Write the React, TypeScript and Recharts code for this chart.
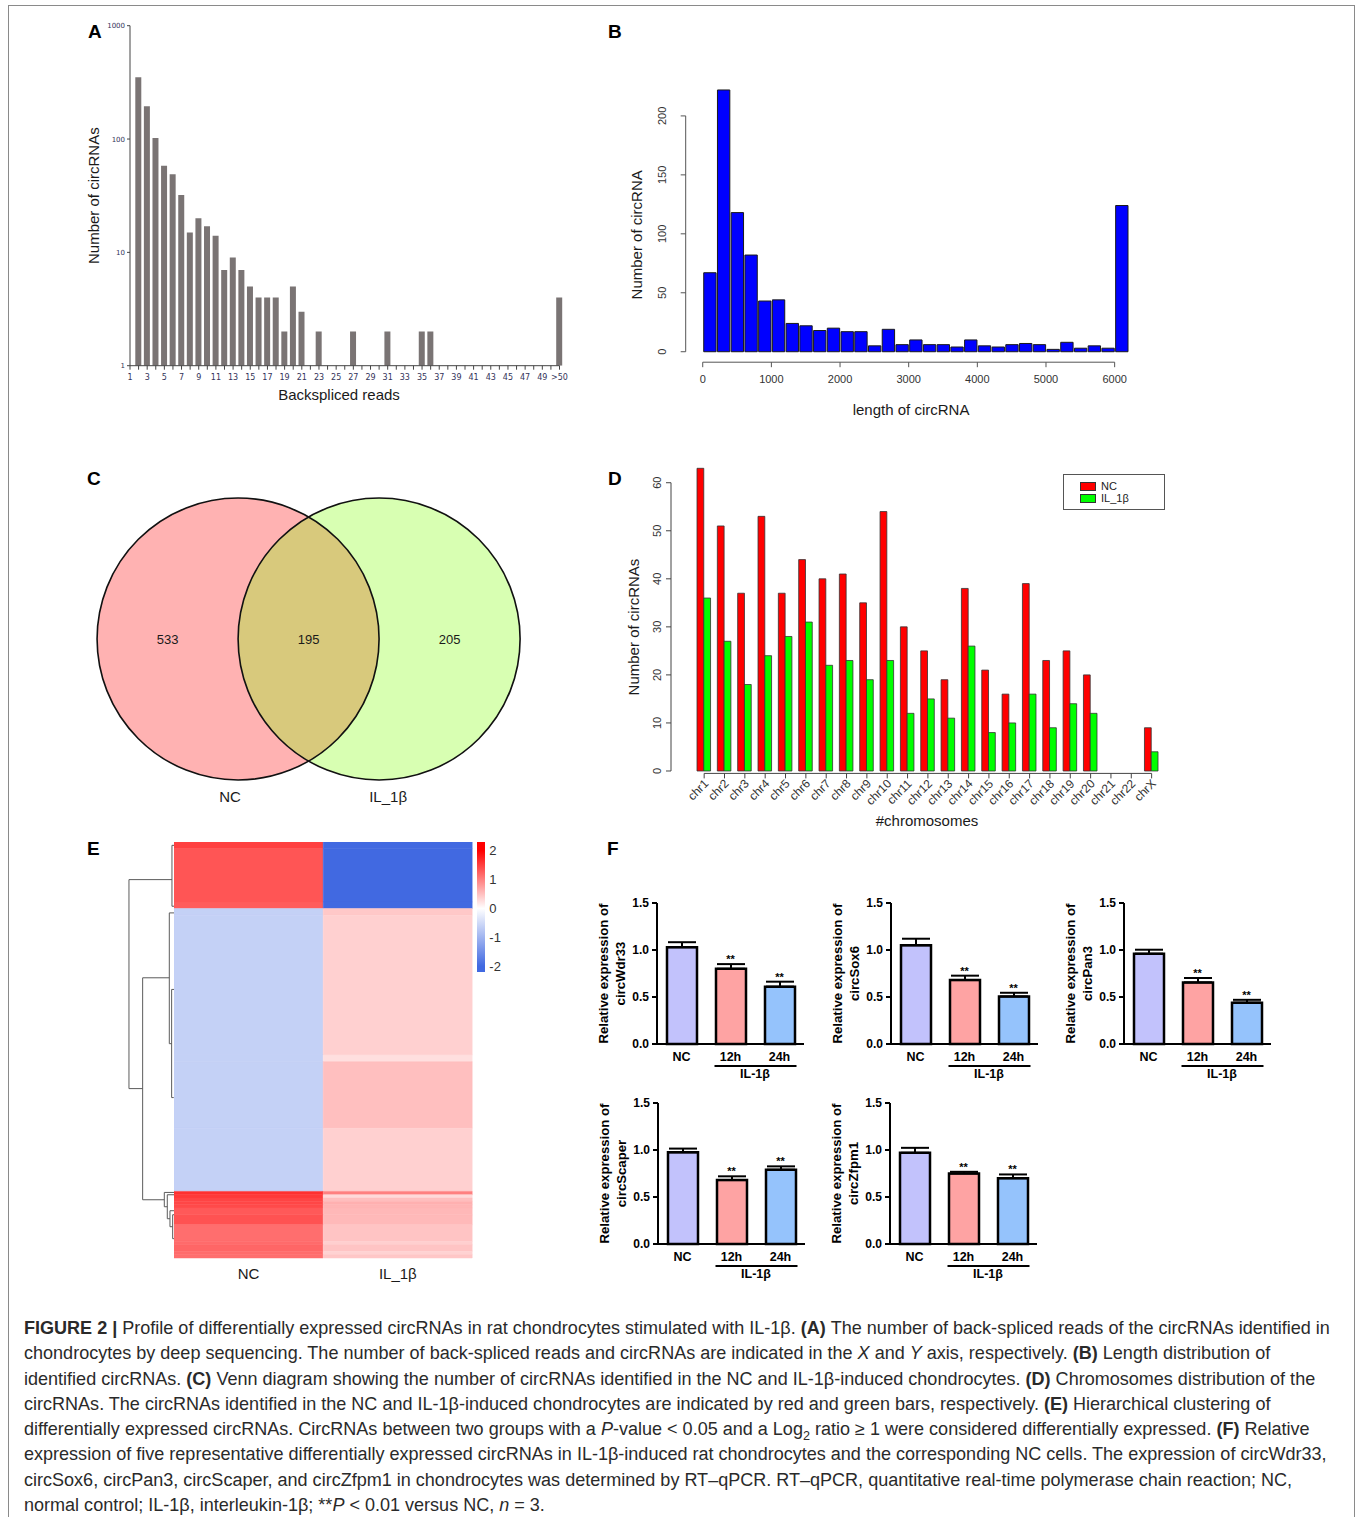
import React from 'react';
import {
  BarChart, Bar, XAxis, YAxis, Cell, ReferenceLine, Legend, ScatterChart, Scatter,
  ComposedChart, Line, LabelList, ErrorBar,
} from 'recharts';

const FONT = '"Liberation Sans", Arial, Helvetica, sans-serif';

// ---------- A: back-spliced reads (log scale) ----------
const readsCategories = Array.from({ length: 51 }, (_, i) => i + 1); // 51 = ">50"
const readsCounts: (number | null)[] = [
  null, 350, 195, 102, 58, 49, 32, 15, 20, 17, 14, 7, 9, 7, 5, 4, 4, 4, 2, 5, 3,
  null, 2, null, null, null, 2, null, null, null, 2, null, null, null, 2, 2,
  null, null, null, null, null, null, null, null, null, null, null, null, null, null,
  4,
];

// ---------- B: length histogram (200 nt bins, last bin = >6000) ----------
const lengthBinStarts = Array.from({ length: 31 }, (_, i) => i * 200);
const lengthCounts = [
  67, 222, 118, 82, 43, 44, 24, 22, 18, 20, 17, 17, 5, 19, 6, 10,
  6, 6, 4, 10, 5, 4, 6, 7, 6, 2, 8, 3, 5, 3, 124,
];
const lengthTicks = [0, 1000, 2000, 3000, 4000, 5000, 6000];

// ---------- C: venn ----------
const vennSets = ['NC', 'IL_1β'];
const vennCounts = [533, 195, 205]; // NC only, shared, IL_1β only

// ---------- D: chromosome distribution ----------
const chromosomes = [
  'chr1', 'chr2', 'chr3', 'chr4', 'chr5', 'chr6', 'chr7', 'chr8', 'chr9', 'chr10', 'chr11', 'chr12',
  'chr13', 'chr14', 'chr15', 'chr16', 'chr17', 'chr18', 'chr19', 'chr20', 'chr21', 'chr22', 'chrX',
];
const chrNC = [63, 51, 37, 53, 37, 44, 40, 41, 35, 54, 30, 25, 19, 38, 21, 16, 39, 23, 25, 20, 0, 0, 9];
const chrIL = [36, 27, 18, 24, 28, 31, 22, 23, 19, 23, 12, 15, 11, 26, 8, 10, 16, 9, 14, 12, 0, 0, 4];

// ---------- E: heatmap bands (rows per band, z-score per column) ----------
const heatCols = ['NC', 'IL_1β'];
const heatRows = [2, 16, 2, 2, 42, 2, 20, 19, 1, 1, 1, 1, 1, 2, 3, 5, 1, 2, 1, 1];
const heatNC = [1.5, 1.33, 1.28, -0.62, -0.62, -0.62, -0.62, -0.62, 1.62, 1.55, 1.47, 1.45, 1.42, 1.3, 1.36, 1.14, 1.16, 1.2, 1.16, 1.14];
const heatIL = [-2, -2, -2, 0.43, 0.37, 0.25, 0.5, 0.37, 1.0, 0.3, 0.5, 0.62, 0.58, 0.56, 0.55, 0.46, 0.38, 0.46, 0.35, 0.44];
const zTicks = [-2, -1, 0, 1, 2];
const zRange: [number, number] = [-2.2, 2.3];
// dendrogram merges: height h, child rows y1/y2, child heights h1/h2
const dendroLinks = [
  { h: 0.835, y1: 11.3, y2: 74.1, h1: 0.043, h2: 0.583 },
  { h: 0.583, y1: 40.8, y2: 107.5, h1: 0.092, h2: 0.184 },
  { h: 0.043, y1: 1.0, y2: 19.3, h1: 0, h2: 0 },
  { h: 0.092, y1: 21.3, y2: 60.6, h1: 0, h2: 0.049 },
  { h: 0.049, y1: 44.3, y2: 76.8, h1: 0, h2: 0.01 },
  { h: 0.184, y1: 105.3, y2: 109.6, h1: 0, h2: 0.129 },
  { h: 0.129, y1: 106.0, y2: 113.2, h1: 0, h2: 0.08 },
  { h: 0.08, y1: 110.8, y2: 115.6, h1: 0, h2: 0.03 },
  { h: 0.03, y1: 112.0, y2: 119.2, h1: 0, h2: 0 },
];

// ---------- F: RT-qPCR ----------
const fGenes = ['circWdr33', 'circSox6', 'circPan3', 'circScaper', 'circZfpm1'];
const fGroups = ['NC', '12h', '24h'];
const fTreatment = 'IL-1β';
const fMeans = [
  [1.03, 0.8, 0.61],
  [1.05, 0.68, 0.505],
  [0.96, 0.655, 0.44],
  [0.975, 0.68, 0.79],
  [0.97, 0.75, 0.7],
];
const fErrs = [
  [0.053, 0.05, 0.053],
  [0.07, 0.047, 0.04],
  [0.043, 0.047, 0.03],
  [0.04, 0.04, 0.036],
  [0.053, 0.018, 0.04],
];
const fSig = ['', '**', '**'];

// ---------- helpers ----------
const zColor = (z: number) => {
  const t = Math.max(-1, Math.min(1, z / 2));
  const mix = (a: number, b: number, k: number) => Math.round(a + (b - a) * k);
  if (t >= 0) return `rgb(255,${mix(255, 0, t)},${mix(255, 0, t)})`;
  const k = -t;
  return `rgb(${mix(255, 65, k)},${mix(255, 105, k)},${mix(255, 225, k)})`;
};

const vTitle = (text: string, fromRight: number, size: number, dy = 0, weight = 'normal') => ({
  content: (p: any) => {
    const vb = p.viewBox;
    const x = vb.x + vb.width - fromRight + 0.36 * size;
    const y = vb.y + vb.height / 2 + dy;
    return (
      <text x={x} y={y} transform={`rotate(-90 ${x} ${y})`} textAnchor="middle" fontSize={size} fontWeight={weight} fill="#1a1a1a">
        {text}
      </text>
    );
  },
});

const hTitle = (text: string, below: number, size: number, dx = 0) => ({
  content: (p: any) => {
    const vb = p.viewBox;
    return (
      <text x={vb.x + vb.width / 2 + dx} y={vb.y + below + 0.36 * size} textAnchor="middle" fontSize={size} fill="#1a1a1a">
        {text}
      </text>
    );
  },
});

const RotTick = (props: any) => {
  const { x, y, payload } = props;
  return (
    <text x={x} y={y} transform={`rotate(-90 ${x} ${y})`} textAnchor="middle" fontSize={11} fill="#333">
      {payload.value}
    </text>
  );
};

const ReadsTick = (props: any) => {
  const { x, y, payload } = props;
  const v = payload.value;
  if (v % 2 === 0) return <g />;
  return (
    <text x={x} y={y} dy={7} textAnchor="middle" fontSize={8} fill="#33335a" fontFamily="DejaVu Sans">
      {v === 51 ? '>50' : v}
    </text>
  );
};

const ChrTick = (props: any) => {
  const { x, y, payload } = props;
  const tx = x + 5;
  const ty = y + 3;
  return (
    <text x={tx} y={ty} transform={`rotate(-45 ${tx} ${ty})`} textAnchor="end" fontSize={12} fill="#333">
      {payload.value}
    </text>
  );
};

const PanelLetter = ({ ch, left, top }: { ch: string; left: number; top: number }) => (
  <div style={{ position: 'absolute', left, top, fontSize: 19, fontWeight: 'bold', lineHeight: '19px', fontFamily: FONT }}>{ch}</div>
);

// ---------- panels ----------
function PanelA() {
  const data = readsCategories.map((c, i) => ({ reads: c, count: readsCounts[i] }));
  return (
    <div style={{ position: 'absolute', left: 55, top: 10 }}>
      <BarChart width={525} height={400} data={data} margin={{ top: 15.7, right: 20.5, left: 0, bottom: 0 }}>
        <XAxis
          dataKey="reads" type="number" domain={[1, 51]} ticks={readsCategories} interval={0}
          height={44.3} tickSize={4} tickMargin={3} stroke="#444" tick={<ReadsTick />}
          label={hTitle('Backspliced reads', 29.3, 15, -5.75)}
        />
        <YAxis
          type="number" scale="log" domain={[1, 1000]} allowDataOverflow ticks={[1, 10, 100, 1000]}
          width={75} tickSize={3} tickMargin={2} stroke="#444"
          tick={{ fontSize: 7, fill: '#33335a', fontFamily: 'DejaVu Sans' }}
          label={vTitle('Number of circRNAs', 36, 15)}
        />
        <Bar dataKey="count" fill="#7a7474" barSize={6} isAnimationActive={false} />
      </BarChart>
    </div>
  );
}

function PanelB() {
  const data = lengthBinStarts.map((s, i) => ({ mid: s + 100, count: lengthCounts[i] }));
  const plotW = 560 - 85.7 - 14.6;
  const barSize = (plotW * 200) / (6448 + 248);
  return (
    <div style={{ position: 'absolute', left: 600, top: 60 }}>
      <BarChart width={560} height={370} data={data} margin={{ top: 19.5, right: 14.6, left: 0, bottom: 0 }} barGap={0}>
        <XAxis
          dataKey="mid" type="number" domain={[-248, 6448]} ticks={lengthTicks} interval={0}
          axisLine={false} tickSize={5} tickMargin={8} height={67.8} stroke="#555"
          tick={{ fontSize: 11, fill: '#333' }}
          label={hTitle('length of circRNA', 47.8, 15, -4.5)}
        />
        <YAxis
          type="number" domain={[-8.88, 230.88]} ticks={[0, 50, 100, 150, 200]} interval={0}
          axisLine={false} width={85.7} tickSize={5} tickMargin={15} stroke="#555" tick={<RotTick />}
          label={vTitle('Number of circRNA', 48.7, 15, 14)}
        />
        <ReferenceLine segment={[{ x: -248, y: 0 }, { x: -248, y: 200 }]} stroke="#555" />
        <ReferenceLine segment={[{ x: 0, y: -8.88 }, { x: 6000, y: -8.88 }]} stroke="#555" />
        <Bar dataKey="count" fill="#0000ff" stroke="#1a1a1a" strokeWidth={1} barSize={barSize} isAnimationActive={false} />
      </BarChart>
    </div>
  );
}

const VENN_R = 141;
const vennFill = ['#ff0000', '#7fff00'];
const vennNameShift = [-8, 9];

function PanelC() {
  const circles = vennSets.map((s, i) => ({ x: i, y: 0, name: s }));
  const counts = vennCounts.map((n, i) => ({ x: i - 0.5, y: 0, n }));
  return (
    <div style={{ position: 'absolute', left: 90, top: 469 }}>
      <ScatterChart width={440} height={340} margin={{ top: 0, right: 0, bottom: 0, left: 0 }}>
        <XAxis type="number" dataKey="x" domain={[-1.05, 2.07]} hide />
        <YAxis type="number" dataKey="y" domain={[-1, 1]} hide />
        <Scatter
          data={circles} isAnimationActive={false}
          shape={(p: any) => (
            <circle cx={p.cx} cy={p.cy} r={VENN_R} fill={vennFill[vennSets.indexOf(p.payload.name)]} fillOpacity={0.3} />
          )}
        />
        <Scatter
          data={circles} isAnimationActive={false}
          shape={(p: any) => {
            const i = vennSets.indexOf(p.payload.name);
            return (
              <g>
                <circle cx={p.cx} cy={p.cy} r={VENN_R} fill="none" stroke="#111" strokeWidth={1.6} />
                <text x={p.cx + vennNameShift[i]} y={p.cy + VENN_R + 22} textAnchor="middle" fontSize={15} fill="#1a1a1a">
                  {p.payload.name}
                </text>
              </g>
            );
          }}
        />
        <Scatter
          data={counts} isAnimationActive={false}
          shape={(p: any) => (
            <text x={p.cx} y={p.cy + 4.5} textAnchor="middle" fontSize={13} fill="#1a1a1a">{p.payload.n}</text>
          )}
        />
      </ScatterChart>
    </div>
  );
}

const legendOrder = ['NC', 'IL_1β'];
const DLegend = (props: any) => {
  const items = [...(props.payload || [])].sort(
    (a: any, b: any) => legendOrder.indexOf(a.value) - legendOrder.indexOf(b.value),
  );
  return (
    <div style={{ border: '1px solid #555', width: 102, height: 36, boxSizing: 'border-box', padding: '5px 0 0 16px', background: '#fff', fontFamily: FONT }}>
      {items.map((e: any) => (
        <div key={e.value} style={{ display: 'flex', alignItems: 'center', height: 12, fontSize: 11, color: '#222' }}>
          <span style={{ display: 'inline-block', width: 14, height: 7, background: e.color, border: '1px solid #333', marginRight: 5 }} />
          {e.value}
        </div>
      ))}
    </div>
  );
};

function PanelD() {
  const data = chromosomes.map((c, i) => ({ chr: c, nc: chrNC[i], il: chrIL[i] }));
  const band = (580 - 18.2 - 71 - 23) / chromosomes.length;
  return (
    <div style={{ position: 'absolute', left: 600, top: 440 }}>
      <BarChart width={580} height={400} data={data} margin={{ top: 18.7, right: 18.2, left: 0, bottom: 0 }} barGap={0}>
        <XAxis
          dataKey="chr" padding={{ left: 23, right: 0 }} interval={0} axisLine={false}
          tickSize={5} tickMargin={3} height={66.6} stroke="#444" tick={<ChrTick />}
          label={hTitle('#chromosomes', 47.6, 15, 10.6)}
        />
        <XAxis xAxisId="edge" type="number" domain={[0, 1]} hide />
        <YAxis
          type="number" domain={[-0.5, 65]} ticks={[0, 10, 20, 30, 40, 50, 60]} interval={0}
          axisLine={false} width={71} tickSize={5} tickMargin={5} stroke="#444" tick={<RotTick />}
          label={vTitle('Number of circRNAs', 37, 15, 11)}
        />
        <ReferenceLine xAxisId="edge" segment={[{ x: 0, y: 0 }, { x: 0, y: 60 }]} stroke="#444" />
        <ReferenceLine segment={[{ x: 'chr1', y: -0.5 }, { x: 'chrX', y: -0.5 }]} stroke="#444" />
        <Legend
          layout="horizontal" verticalAlign="middle" align="center" content={<DLegend />}
          wrapperStyle={{ left: 463, top: 34, width: 102, height: 36 }}
        />
        <Bar dataKey="nc" name="NC" fill="#ff0000" stroke="#333" strokeWidth={0.8} barSize={band / 3} isAnimationActive={false} />
        <Bar dataKey="il" name="IL_1β" fill="#00ff00" stroke="#333" strokeWidth={0.8} barSize={band / 3} isAnimationActive={false} />
      </BarChart>
    </div>
  );
}

function PanelE() {
  const heatData = heatCols.map((name) => {
    const o: any = { name };
    heatRows.forEach((n, i) => { o['b' + i] = n; });
    return o;
  });
  const total = heatRows.reduce((a, b) => a + b, 0);
  const zStops = [zRange[1], 2, 1, 0, -1, -2, zRange[0]];
  const span = zRange[1] - zRange[0];
  return (
    <>
      {/* dendrogram */}
      <div style={{ position: 'absolute', left: 120, top: 842.3 }}>
        <ScatterChart width={54.3} height={416} margin={{ top: 0, right: 0, bottom: 0, left: 0 }}>
          <XAxis type="number" dataKey="h" domain={[0, 1]} reversed hide />
          <YAxis type="number" dataKey="y" domain={[0, total]} reversed hide />
          {dendroLinks.map((l, i) => (
            <Scatter
              key={i}
              data={[{ h: l.h1, y: l.y1 }, { h: l.h, y: l.y1 }, { h: l.h, y: l.y2 }, { h: l.h2, y: l.y2 }]}
              line={{ stroke: '#5a5a5a', strokeWidth: 1 }}
              lineType="joint"
              shape={() => <g />}
              isAnimationActive={false}
            />
          ))}
        </ScatterChart>
      </div>
      {/* heatmap */}
      <div style={{ position: 'absolute', left: 174.3, top: 842.3 }}>
        <BarChart width={298.4} height={446} data={heatData} margin={{ top: 0, right: 0, bottom: 0, left: 0 }} barCategoryGap={0}>
          <XAxis dataKey="name" axisLine={false} tickLine={false} tickSize={0} tickMargin={10} height={30} tick={{ fontSize: 15, fill: '#1a1a1a' }} />
          <YAxis type="number" domain={[0, total]} reversed hide />
          {heatRows.map((_, i) => (
            <Bar key={i} dataKey={'b' + i} stackId="h" isAnimationActive={false}>
              {heatCols.map((c, j) => {
                const col = zColor(j === 0 ? heatNC[i] : heatIL[i]);
                return <Cell key={c} fill={col} stroke={col} strokeWidth={0.5} />;
              })}
            </Bar>
          ))}
        </BarChart>
      </div>
      {/* color key */}
      <div style={{ position: 'absolute', left: 476.7, top: 842.3 }}>
        <BarChart width={40} height={142} data={[{ k: 'z', range: zRange }]} margin={{ top: 0, right: 0, bottom: 12, left: 0 }} barCategoryGap={0}>
          <defs>
            <linearGradient id="zgrad" x1="0" y1="0" x2="0" y2="1">
              {zStops.map((z, i) => (
                <stop key={i} offset={(zRange[1] - z) / span} stopColor={zColor(z)} />
              ))}
            </linearGradient>
          </defs>
          <XAxis dataKey="k" hide />
          <YAxis
            type="number" orientation="right" domain={zRange} ticks={zTicks} interval={0}
            width={31.7} axisLine={false} tickLine={false} tickSize={0} tickMargin={4}
            tick={{ fontSize: 13, fill: '#333', textAnchor: 'start' }}
          />
          <Bar dataKey="range" fill="url(#zgrad)" isAnimationActive={false} />
        </BarChart>
      </div>
    </>
  );
}

const fColors = ['#c2c2fc', '#fea3a3', '#95c3fc'];
const F_PLOT_W = 147;

const FTick = (props: any) => {
  const { x, y, payload, index } = props;
  const band = F_PLOT_W / fGroups.length;
  return (
    <g>
      <text x={x} y={y + 17} textAnchor="middle" fontSize={12.5} fontWeight="bold" fill="#000">{payload.value}</text>
      {index === 1 && (
        <g>
          <line x1={x - 16} x2={x + band + 17} y1={y + 22} y2={y + 22} stroke="#000" strokeWidth={2} />
          <text x={x + band / 2} y={y + 34} textAnchor="middle" fontSize={12.5} fontWeight="bold" fill="#000">{fTreatment}</text>
        </g>
      )}
    </g>
  );
};

function FChart({ idx, axisX, plotTop }: { idx: number; axisX: number; plotTop: number }) {
  const data = fGroups.map((g, j) => ({
    g,
    mean: fMeans[idx][j],
    err: [0, fErrs[idx][j]],
    top: fMeans[idx][j] + fErrs[idx][j],
    sig: fSig[j],
  }));
  const gene = fGenes[idx];
  return (
    <div style={{ position: 'absolute', left: axisX - 70, top: plotTop - 10 }}>
      <ComposedChart width={70 + F_PLOT_W + 8} height={196} data={data} margin={{ top: 10, right: 8, left: 0, bottom: 0 }}>
        <XAxis
          dataKey="g" interval={0} axisLine={{ stroke: '#000', strokeWidth: 2 }} tickLine={false}
          tickSize={0} tickMargin={0} height={45} tick={<FTick />}
        />
        <YAxis
          type="number" domain={[0, 1.5]} ticks={[0, 0.5, 1, 1.5]} interval={0}
          tickFormatter={(v: number) => v.toFixed(1)} width={70}
          axisLine={{ stroke: '#000', strokeWidth: 2 }} tickLine={{ stroke: '#000', strokeWidth: 2 }}
          tickSize={5} tickMargin={3} tick={{ fontSize: 12, fontWeight: 'bold', fill: '#000' }}
          label={{
            content: (p: any) => {
              const vb = p.viewBox;
              const r = vb.x + vb.width;
              const cy = vb.y + vb.height / 2;
              const lines: [string, number][] = [['Relative expression of', 54], [gene, 37]];
              return (
                <g>
                  {lines.map(([t, d]) => {
                    const x = r - d + 4.7;
                    return (
                      <text key={t} x={x} y={cy} transform={`rotate(-90 ${x} ${cy})`} textAnchor="middle" fontSize={13.2} fontWeight="bold" fill="#000">
                        {t}
                      </text>
                    );
                  })}
                </g>
              );
            },
          } as any}
        />
        <Bar dataKey="mean" barSize={30} stroke="#000" strokeWidth={2.5} isAnimationActive={false}>
          {data.map((d, j) => <Cell key={d.g} fill={fColors[j]} />)}
          <ErrorBar dataKey="err" width={14} stroke="#000" strokeWidth={2} isAnimationActive={false} />
        </Bar>
        <Line dataKey="top" stroke="none" dot={false} activeDot={false} isAnimationActive={false}>
          <LabelList dataKey="sig" position="top" offset={1} style={{ fontSize: 11, fontWeight: 'bold', fill: '#000' }} />
        </Line>
      </ComposedChart>
    </div>
  );
}

const fPlacement = [
  { axisX: 657, plotTop: 903 },
  { axisX: 891, plotTop: 903 },
  { axisX: 1124, plotTop: 903 },
  { axisX: 658, plotTop: 1103 },
  { axisX: 890, plotTop: 1103 },
];

function Caption() {
  const b = (t: string) => <b>{t}</b>;
  const lines: React.ReactNode[] = [
    <>{b('FIGURE 2 |')} Profile of differentially expressed circRNAs in rat chondrocytes stimulated with IL-1β. {b('(A)')} The number of back-spliced reads of the circRNAs identified in</>,
    <>chondrocytes by deep sequencing. The number of back-spliced reads and circRNAs are indicated in the <i>X</i> and <i>Y</i> axis, respectively. {b('(B)')} Length distribution of</>,
    <>identified circRNAs. {b('(C)')} Venn diagram showing the number of circRNAs identified in the NC and IL-1β-induced chondrocytes. {b('(D)')} Chromosomes distribution of the</>,
    <>circRNAs. The circRNAs identified in the NC and IL-1β-induced chondrocytes are indicated by red and green bars, respectively. {b('(E)')} Hierarchical clustering of</>,
    <>differentially expressed circRNAs. CircRNAs between two groups with a <i>P</i>-value &lt; 0.05 and a Log<sub style={{ fontSize: '0.7em', lineHeight: 0 }}>2</sub> ratio ≥ 1 were considered differentially expressed. {b('(F)')} Relative</>,
    <>expression of five representative differentially expressed circRNAs in IL-1β-induced rat chondrocytes and the corresponding NC cells. The expression of circWdr33,</>,
    <>circSox6, circPan3, circScaper, and circZfpm1 in chondrocytes was determined by RT–qPCR. RT–qPCR, quantitative real-time polymerase chain reaction; NC,</>,
    <>normal control; IL-1β, interleukin-1β; **<i>P</i> &lt; 0.01 versus NC, <i>n</i> = 3.</>,
  ];
  return (
    <div style={{ position: 'absolute', left: 24, top: 1316, fontFamily: FONT, fontSize: 18.05, lineHeight: '25.3px', color: '#2a2a2a' }}>
      {lines.map((l, i) => (
        <div key={i} style={{ whiteSpace: 'nowrap', height: 25.3 }}>{l}</div>
      ))}
    </div>
  );
}

export default function App() {
  return (
    <div style={{ position: 'absolute', left: 0, top: 0, width: 1357, height: 1517, overflow: 'hidden', background: '#fff', fontFamily: FONT }}>
      <div style={{ position: 'absolute', left: 8, top: 5, width: 1347, height: 1600, border: '1px solid #8a8a8a', boxSizing: 'border-box' }} />
      <PanelLetter ch="A" left={88} top={21.5} />
      <PanelLetter ch="B" left={608} top={21.5} />
      <PanelLetter ch="C" left={87} top={468.5} />
      <PanelLetter ch="D" left={608} top={468.5} />
      <PanelLetter ch="E" left={87} top={838.5} />
      <PanelLetter ch="F" left={607} top={838.5} />
      <PanelA />
      <PanelB />
      <PanelC />
      <PanelD />
      <PanelE />
      {fPlacement.map((p, i) => (
        <FChart key={i} idx={i} axisX={p.axisX} plotTop={p.plotTop} />
      ))}
      <Caption />
    </div>
  );
}
